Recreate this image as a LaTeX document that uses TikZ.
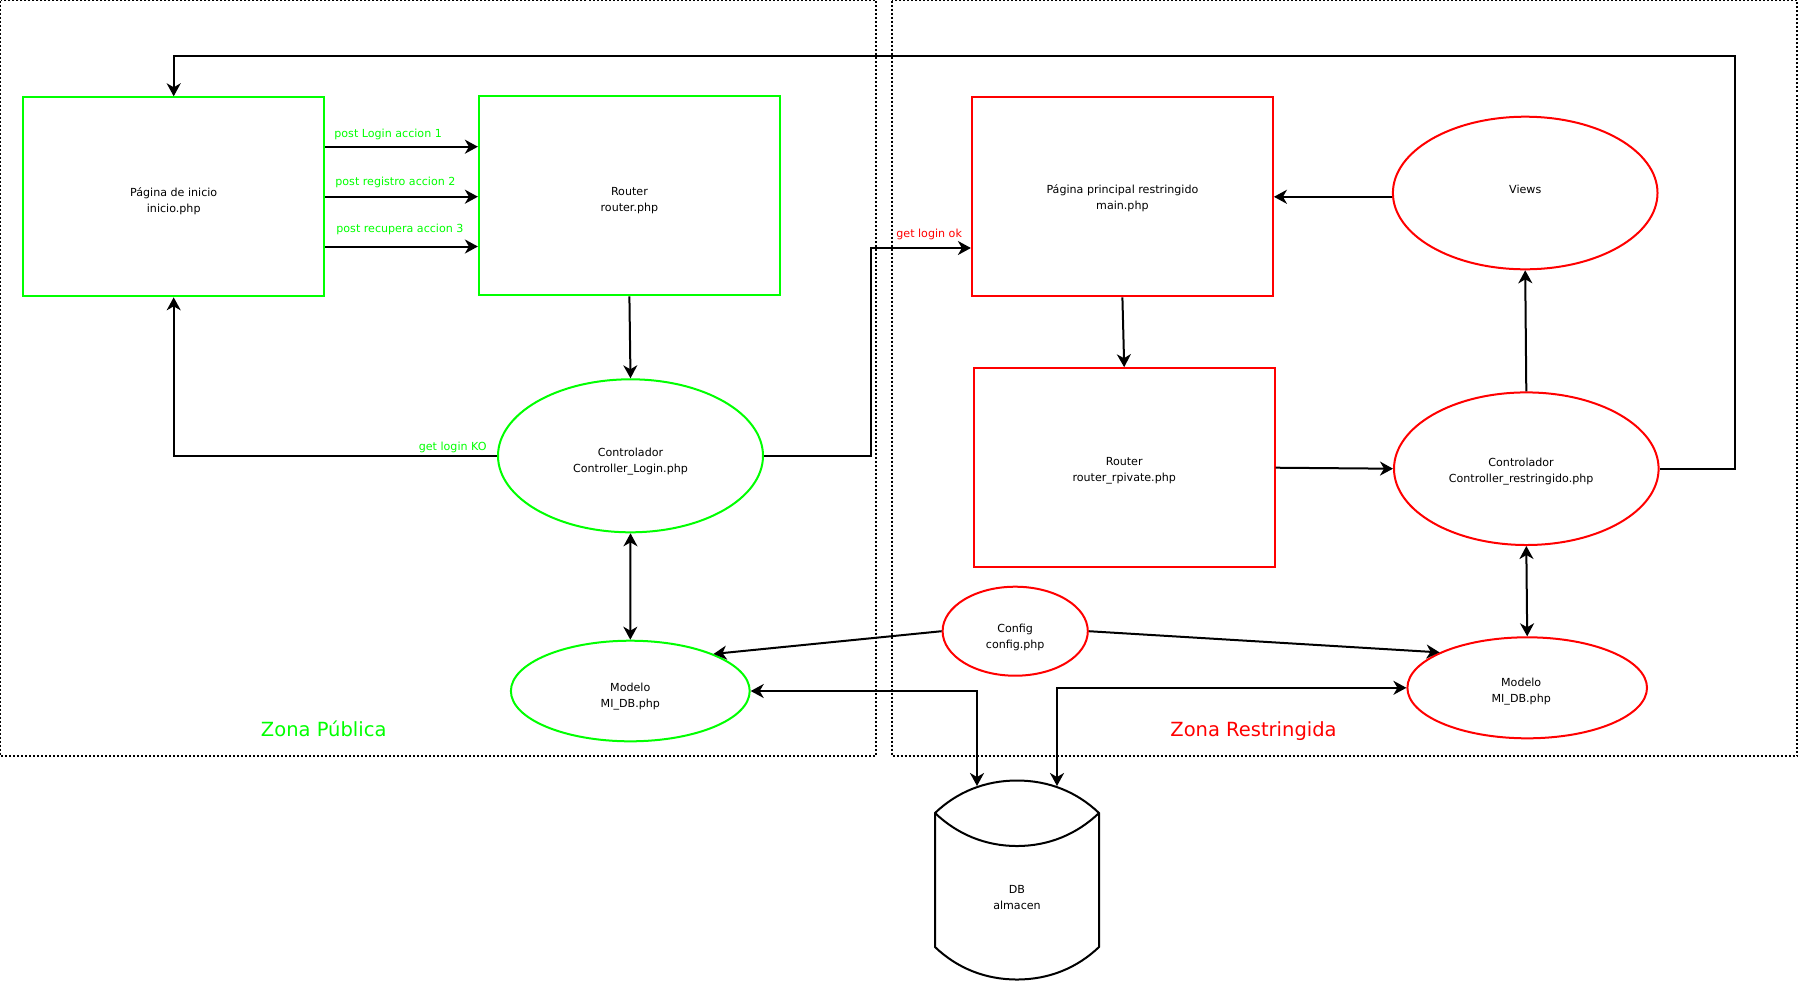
\documentclass[tikz,border=0pt]{standalone}
\usepackage{fontspec}
\setmainfont{DejaVu Sans}
\usetikzlibrary{shapes.geometric,arrows.meta,calc}
\definecolor{zgreen}{HTML}{00FF00}
\definecolor{zred}{HTML}{FF0000}
\begin{document}
\begin{tikzpicture}[x=0.5pt,y=-0.5pt,
  txt/.style={font=\fontsize{5.55}{8}\selectfont, align=center, inner sep=0pt},
  gbox/.style={draw=zgreen, line width=1pt, inner sep=0pt, minimum width=150.5pt, minimum height=99.5pt},
  rbox/.style={draw=zred, line width=1pt, inner sep=0pt, minimum width=150.5pt, minimum height=99.5pt},
  gell/.style={ellipse, draw=zgreen, line width=1pt, inner sep=0pt},
  rell/.style={ellipse, draw=zred, line width=1pt, inner sep=0pt},
  zone/.style={line width=0.6pt, dash pattern=on 1pt off 1pt},
  glabel/.style={font=\fontsize{5.55}{8}\selectfont, text=zgreen, inner sep=0pt},
  rlabel/.style={font=\fontsize{5.55}{8}\selectfont, text=zred, inner sep=0pt},
  zlabel/.style={font=\fontsize{9.75}{12}\selectfont, inner sep=0pt},
  tip/.tip={Stealth[length=6.5pt,width=7pt,inset=2pt]},
  conn/.style={line width=1pt, -tip},
  dconn/.style={line width=1pt, tip-tip},
]
\useasboundingbox (0,0) rectangle (1798,981);

% zones
\draw[zone] (0.5,0.5) rectangle (876,756);
\draw[zone] (892,0.5) rectangle (1797,756);
\node[zlabel, text=zgreen, anchor=base] (zp) at (323.7,736.5) {Zona Pública};
\node[zlabel, text=zred, anchor=base] (zr) at (1253.5,736) {Zona Restringida};

% public zone nodes
\node[gbox, label={[txt,yshift=-2.3pt]center:{Página de inicio\\inicio.php}}] (pi) at (173.7,196.8) {};
\node[gbox, label={[txt,yshift=-2.3pt]center:{Router\\router.php}}] (rt) at (629.4,195.8) {};
\node[gell, minimum width=132.5pt, minimum height=76.5pt, label={[txt,yshift=-2.9pt]center:{Controlador\\Controller\_Login.php}}] (cl) at (630.5,455.8) {};
\node[gell, minimum width=119.4pt, minimum height=50.3pt, label={[txt,yshift=-2.9pt]center:{Modelo\\MI\_DB.php}}] (ml) at (630.3,691) {};

% restricted zone nodes
\node[rbox, label={[txt,yshift=-0.6pt]center:{Página principal restringido\\main.php}}] (pp) at (1122.4,196.8) {};
\node[rbox, label={[txt,yshift=-1.7pt]center:{Router\\router\_rpivate.php}}] (rr) at (1124.2,467.7) {};
\node[rell, minimum width=132.3pt, minimum height=76.3pt, label={[txt,yshift=1.7pt]center:{Views}}] (vw) at (1525.2,193) {};
\node[rell, minimum width=132.3pt, minimum height=76.3pt, label={[txt,yshift=-1.2pt,xshift=-2.6pt]center:{Controlador\\Controller\_restringido.php}}] (cr) at (1526.3,468.7) {};
\node[rell, minimum width=72.6pt, minimum height=44.5pt, label={[txt,yshift=-2.9pt]center:{Config\\config.php}}] (cf) at (1015.2,631.2) {};
\node[rell, minimum width=119.8pt, minimum height=50.5pt, label={[txt,yshift=-1.7pt,xshift=-3pt]center:{Modelo\\MI\_DB.php}}] (mr) at (1527.2,687.8) {};

% database cylinder
\draw[line width=1pt] (935,813) .. controls (957,792) and (985,780.5) .. (1017,780.5)
  .. controls (1049,780.5) and (1077,792) .. (1099,813) -- (1099,947)
  .. controls (1077,968) and (1049,979.5) .. (1017,979.5)
  .. controls (985,979.5) and (957,968) .. (935,947) -- cycle;
\draw[line width=1pt] (935,813) .. controls (957,834) and (985,846) .. (1017,846)
  .. controls (1049,846) and (1077,834) .. (1099,813);
\node[txt] (db) at (1017,898) {DB\\almacen};
\coordinate (dbl) at (977,786);
\coordinate (dbr) at (1057,786);

% post arrows
\draw[conn] (pi.east |- 0,146.7) -- (rt.west |- 0,146.7);
\draw[conn] (pi.east |- 0,196.7) -- (rt.west |- 0,196.7);
\draw[conn] (pi.east |- 0,246.5) -- (rt.west |- 0,246.5);
\node[glabel, anchor=base west] (l1) at (334,137.3) {post Login accion 1};
\node[glabel, anchor=base west] (l2) at (335,185) {post registro accion 2};
\node[glabel, anchor=base west] (l3) at (336,232) {post recupera accion 3};

% public flow
\draw[conn] (rt.south) -- (cl.north);
\draw[dconn] (cl.south) -- (ml.north);
\draw[conn] (cl.west) -| (pi.south);
\node[glabel, anchor=base east] (lko) at (487,450.7) {get login KO};
\coordinate (okc) at (871,455.8);
\draw[conn] (cl.east) -- (okc) |- (pp.west |- 0,248);
\node[rlabel, anchor=base west] (lok) at (896,237) {get login ok};

% restricted flow
\draw[conn] (pp.south) -- (rr.north);
\draw[conn] (rr.east) -- (cr.west);
\draw[conn] (cr.north) -- (vw.south);
\draw[conn] (vw.west |- pp.east) -- (pp.east);
\draw[dconn] (cr.south) -- (mr.north);
\coordinate (lp) at (1734.8,55.7);
\draw[conn] (cr.east) -| (lp) -| (pi.north);

% config
\draw[conn] (cf.west) -- (ml.24);
\draw[conn] (cf.east) -- (mr.158);

% database links
\draw[dconn] (ml.east) -| (dbl);
\draw[dconn] (dbr) |- (mr.west);
\end{tikzpicture}
\end{document}
